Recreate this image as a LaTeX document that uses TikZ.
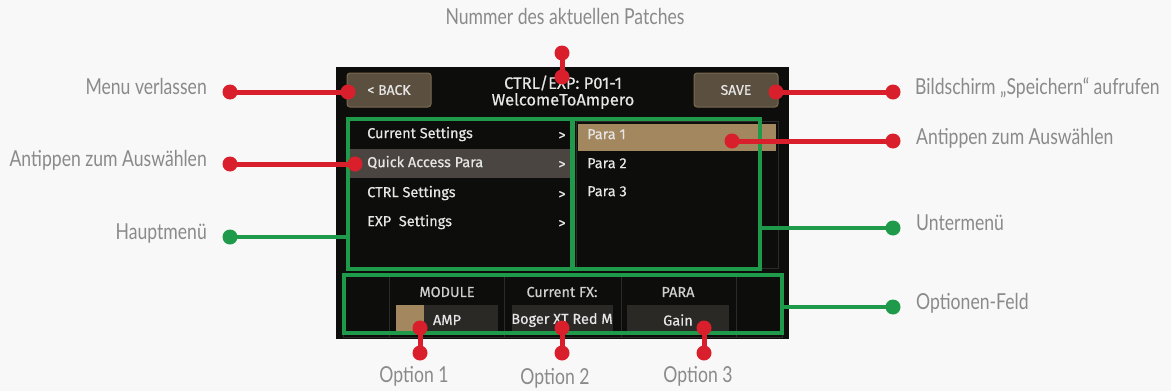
\documentclass[tikz,border=0pt]{standalone}
\usepackage{fontspec}
\newfontfamily\lblfont[FakeStretch=0.8]{Lato}
\newfontfamily\scrfont[FakeBold=0.4]{Fira Sans}
\definecolor{bgc}{HTML}{F8F8F8}
\definecolor{scr}{HTML}{0D0D0B}
\definecolor{grn}{HTML}{1F9A4A}
\definecolor{rd}{HTML}{DA1F2C}
\definecolor{lblc}{HTML}{8A8A8A}
\definecolor{btnf}{HTML}{5B4F3F}
\definecolor{btnd}{HTML}{7A6A50}
\definecolor{hl}{HTML}{4A4540}
\definecolor{tan}{HTML}{A3875E}
\definecolor{cellb}{HTML}{2C2B28}
\definecolor{valf}{HTML}{2A2926}
\definecolor{scrtxt}{HTML}{E6E6E6}
\begin{document}
\begin{tikzpicture}[x=1pt,y=-1pt,
  lbl/.style={font=\lblfont\fontsize{22}{25}\selectfont, text=lblc, inner sep=0},
  stxt/.style={font=\scrfont\fontsize{14.5}{17}\selectfont, text=scrtxt, inner sep=0},
  ttxt/.style={font=\scrfont\fontsize{16.5}{19}\selectfont, text=scrtxt, inner sep=0},
  btn/.style={draw=btnd, fill=btnf, line width=1, rounded corners=3, minimum width=84, minimum height=34, inner sep=0, font=\scrfont\fontsize{14}{16}\selectfont, text=scrtxt},
  gbox/.style={draw=grn, line width=4, inner sep=0},
  cell/.style={draw=cellb, line width=1, fill=scr, inner sep=0},
  valbox/.style={fill=valf, inner sep=0},
  rdot/.style={circle, fill=rd, inner sep=0, minimum size=15},
  gdot/.style={circle, fill=grn, inner sep=0, minimum size=15},
  rline/.style={draw=rd, line width=5},
  gline/.style={draw=grn, line width=4}]
\useasboundingbox (0,0) rectangle (1171,391);
\fill[bgc] (0,0) rectangle (1171,391);
% screen
\fill[scr] (336,67) rectangle (789,339);
% buttons
\node[btn] (back) at (389,90) {< BACK};
\node[btn] (save) at (736,90) {SAVE};
\node[ttxt] (title1) at (563,83) {CTRL/EXP: P01-1};
\node[ttxt] (title2) at (563,101) {WelcomeToAmpero};
% submenu panel outline
\node[draw=cellb, line width=1, minimum width=202, minimum height=147, inner sep=0] (subpanel) at (677,195) {};
% highlights
\fill[hl] (350,149) rectangle (571,178);
\fill[tan] (578,124) rectangle (776,151);
% main menu texts
\node[stxt, anchor=mid west] (m1) at (367,136) {Current Settings};
\node[stxt, anchor=mid west] (m2) at (367,165) {Quick Access Para};
\node[stxt, anchor=mid west] (m3) at (367,195) {CTRL Settings};
\node[stxt, anchor=mid west] (m4) at (367,224) {EXP\ \ Settings};
\node[stxt] (a1) at (562,136) {>};
\node[stxt] (a2) at (562,165) {>};
\node[stxt] (a3) at (562,195) {>};
\node[stxt] (a4) at (562,224) {>};
% submenu texts
\node[stxt, anchor=mid west] (p1) at (587,137) {Para 1};
\node[stxt, anchor=mid west] (p2) at (587,166) {Para 2};
\node[stxt, anchor=mid west] (p3) at (587,194) {Para 3};
% options cells
\node[cell, minimum width=46, minimum height=62] (c0) at (366,306) {};
\node[cell, minimum width=115, minimum height=62] (c1) at (446.5,306) {};
\node[cell, minimum width=117, minimum height=62] (c2) at (562.5,306) {};
\node[cell, minimum width=115, minimum height=62] (c3) at (678.5,306) {};
\node[cell, minimum width=46, minimum height=62] (c4) at (759,306) {};
\node[valbox, minimum width=102, minimum height=30] (v1) at (447,320) {};
\fill[tan] (396,305) rectangle (424,335);
\node[valbox, minimum width=101, minimum height=30] (v2) at (562.5,320) {};
\node[valbox, minimum width=102, minimum height=30] (v3) at (678,320) {};
\node[stxt, text=scrtxt!90!black] (h1) at (447,292) {MODULE};
\node[stxt, text=scrtxt!90!black] (h2) at (562,292) {Current FX:};
\node[stxt, text=scrtxt!90!black] (h3) at (678,292) {PARA};
\node[stxt] (t1) at (447,320) {AMP};
\node[stxt] (t2) at (562,320) {Boger XT Red M};
\node[stxt] (t3) at (678,320) {Gain};
% green boxes
\node[gbox, minimum width=224, minimum height=150] (mainmenu) at (460,194) {};
\node[gbox, minimum width=187, minimum height=150] (submenu) at (666.5,194) {};
\node[gbox, minimum width=438, minimum height=58] (optfield) at (563,304) {};
% labels
\node[lbl, anchor=mid] (ltop) at (565,22) {Nummer des aktuellen Patches};
\node[lbl, anchor=mid east] (l1) at (207,92) {Menu verlassen};
\node[lbl, anchor=mid east] (l2) at (207,164) {Antippen zum Auswählen};
\node[lbl, anchor=mid east] (l3) at (207,237) {Hauptmenü};
\node[lbl, anchor=mid west] (r1) at (915,92) {Bildschirm „Speichern“ aufrufen};
\node[lbl, anchor=mid west] (r2) at (916,142) {Antippen zum Auswählen};
\node[lbl, anchor=mid west] (r3) at (916,228) {Untermenü};
\node[lbl, anchor=mid west] (r4) at (916,307) {Optionen-Feld};
\node[lbl, anchor=mid] (o1) at (414,380) {Option 1};
\node[lbl, anchor=mid] (o2) at (555,382) {Option 2};
\node[lbl, anchor=mid] (o3) at (698,380) {Option 3};
% green connectors
\node[gdot] (gd1) at (230,237) {};
\coordinate (gd1e) at (mainmenu.west |- gd1);
\draw[gline] (gd1.center) -- (gd1e);
\node[gdot] (gd2) at (893,228) {};
\coordinate (gd2e) at (submenu.east |- gd2);
\draw[gline] (gd2.center) -- (gd2e);
\node[gdot] (gd3) at (893,307) {};
\coordinate (gd3e) at (optfield.east |- gd3);
\draw[gline] (gd3.center) -- (gd3e);
% red connectors
\node[rdot] (rd1a) at (230,92) {};
\node[rdot] (rd1b) at (348,92) {};
\draw[rline] (rd1a.center) -- (rd1b.center);
\node[rdot] (rd2a) at (230,164) {};
\node[rdot] (rd2b) at (355,164) {};
\draw[rline] (rd2a.center) -- (rd2b.center);
\node[rdot] (rd3a) at (562,53) {};
\node[rdot] (rd3b) at (562,77) {};
\draw[rline] (rd3a.center) -- (rd3b.center);
\node[rdot] (rd4a) at (776,92) {};
\node[rdot] (rd4b) at (893,92) {};
\draw[rline] (rd4a.center) -- (rd4b.center);
\node[rdot] (rd5a) at (732,141) {};
\node[rdot] (rd5b) at (893,141) {};
\draw[rline] (rd5a.center) -- (rd5b.center);
\node[rdot] (rd6a) at (420,328) {};
\node[rdot] (rd6b) at (420,353) {};
\draw[rline] (rd6a.center) -- (rd6b.center);
\node[rdot] (rd7a) at (562,328) {};
\node[rdot] (rd7b) at (562,353) {};
\draw[rline] (rd7a.center) -- (rd7b.center);
\node[rdot] (rd8a) at (704,328) {};
\node[rdot] (rd8b) at (704,353) {};
\draw[rline] (rd8a.center) -- (rd8b.center);
\end{tikzpicture}
\end{document}
